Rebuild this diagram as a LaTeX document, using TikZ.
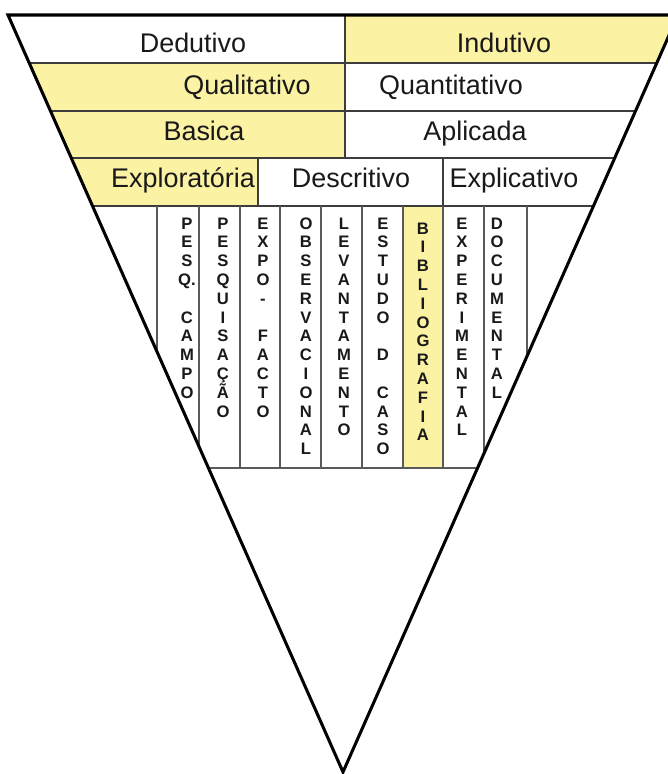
\documentclass[tikz,border=0pt]{standalone}
\usepackage{fontspec}
\setmainfont{Liberation Sans}
\usepackage{tikz}
\usepackage{xcolor}
\usetikzlibrary{arrows.meta,calc,positioning}
\definecolor{amarelo}{RGB}{251,242,163}
\definecolor{linha}{RGB}{60,60,60}
\definecolor{coluna}{RGB}{90,90,90}

\begin{document}
\begin{tikzpicture}[x=0.03cm, y=-0.03cm,
  rowtxt/.style={anchor=base, inner sep=0pt, font=\fontsize{23}{27}\selectfont, text=black!90},
  coltxt/.style={anchor=base, inner sep=0pt, font=\fontsize{14.2}{16}\selectfont\bfseries, text=black!90},
  faixa/.style={draw=linha, line width=1.4pt},
  divisa/.style={draw=coluna, line width=1.3pt},
  borda/.style={draw=black, line width=2.6pt, line join=miter}]
  \useasboundingbox (0,0) rectangle (668,774);
  \clip (0,0) rectangle (668,774);
  \coordinate (TL) at (8,15);
  \coordinate (TR) at (678,15);
  \coordinate (V) at (343,772);
  \begin{scope}
    \clip (TL) -- (TR) -- (V) -- cycle;
    \fill[amarelo] (345,15) rectangle (700,63);
    \fill[amarelo] (0,63) rectangle (345,158);
    \fill[amarelo] (0,158) rectangle (258,206);
    \fill[amarelo] (403,206) rectangle (443,468);
    \foreach \y in {63,111,158,206}
      \draw[faixa] (0,\y) -- (700,\y);
    \draw[divisa] (0,468) -- (700,468);
    \draw[faixa] (345,15) -- (345,158);
    \foreach \x in {258,443}
      \draw[faixa] (\x,158) -- (\x,206);
    \foreach \x in {157,199,240,280,321,362,403,443,484,527}
      \draw[divisa] (\x,206) -- (\x,468);
  \end{scope}
  \draw[borda] (TL) -- (TR) -- (V) -- cycle;

  \node[rowtxt] (dedutivo) at (193,52) {Dedutivo};
  \node[rowtxt] (indutivo) at (504,52) {Indutivo};
  \node[rowtxt] (qualitativo) at (247,94) {Qualitativo};
  \node[rowtxt] (quantitativo) at (451,94) {Quantitativo};
  \node[rowtxt] (basica) at (204,140) {Basica};
  \node[rowtxt] (aplicada) at (475,140) {Aplicada};
  \node[rowtxt] (exploratoria) at (183,187) {Exploratória};
  \node[rowtxt] (descritivo) at (351,187) {Descritivo};
  \node[rowtxt] (explicativo) at (514,187) {Explicativo};

  \foreach \x/\y/\palavra [count=\c] in {
      187/229/{P,E,S,Q.,{},C,A,M,P,O},
      223/229/{P,E,S,Q,U,I,S,A,Ç,Ã,O},
      263/229/{E,X,P,O,-,{},F,A,C,T,O},
      306/229/{O,B,S,E,R,V,A,C,I,O,N,A,L},
      344/229/{L,E,V,A,N,T,A,M,E,N,T,O},
      383/229/{E,S,T,U,D,O,{},D,{},C,A,S,O},
      423/234/{B,I,B,L,I,O,G,R,A,F,I,A},
      462/229/{E,X,P,E,R,I,M,E,N,T,A,L},
      497/229/{D,O,C,U,M,E,N,T,A,L}}
    \foreach \ch [count=\i] in \palavra
      \node[coltxt] (col\c-\i) at (\x,{\y+18.8*\i-18.8}) {\ch};
\end{tikzpicture}
\end{document}
